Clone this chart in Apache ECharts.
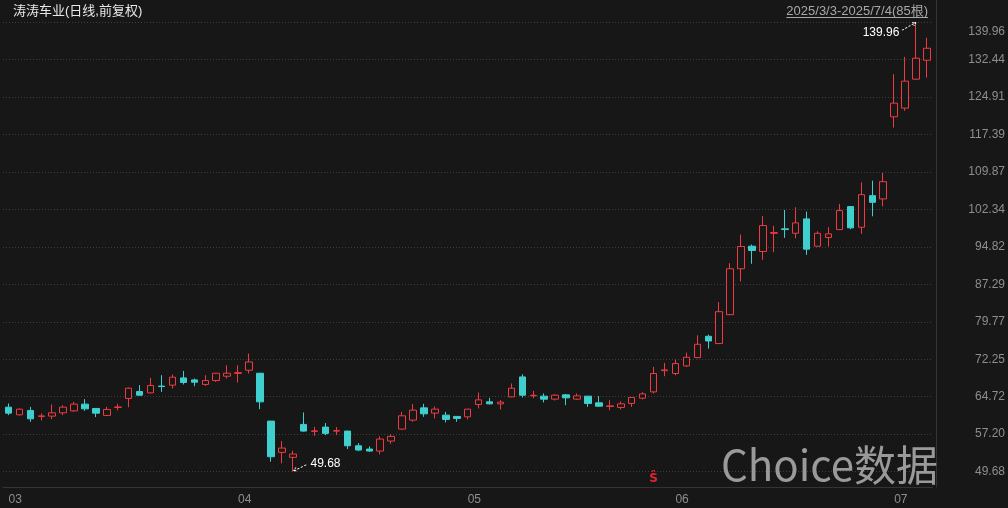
<!DOCTYPE html>
<html>
<head>
<meta charset="utf-8">
<script src="https://cdn.jsdelivr.net/npm/echarts@6/dist/echarts.min.js"></script>
<style>
html,body{margin:0;padding:0;background:#171717;}
#chart{width:1008px;height:508px;}
</style>
</head>
<body>
<div id="chart"></div>
<script>
const categories = [
 '2025-03-03','2025-03-04','2025-03-05','2025-03-06','2025-03-07','2025-03-10','2025-03-11','2025-03-12','2025-03-13','2025-03-14',
 '2025-03-17','2025-03-18','2025-03-19','2025-03-20','2025-03-21','2025-03-24','2025-03-25','2025-03-26','2025-03-27','2025-03-28',
 '2025-03-31',
 '2025-04-01','2025-04-02','2025-04-03','2025-04-07','2025-04-08','2025-04-09','2025-04-10','2025-04-11','2025-04-14','2025-04-15',
 '2025-04-16','2025-04-17','2025-04-18','2025-04-21','2025-04-22','2025-04-23','2025-04-24','2025-04-25','2025-04-28','2025-04-29',
 '2025-04-30',
 '2025-05-06','2025-05-07','2025-05-08','2025-05-09','2025-05-12','2025-05-13','2025-05-14','2025-05-15','2025-05-16','2025-05-19',
 '2025-05-20','2025-05-21','2025-05-22','2025-05-23','2025-05-26','2025-05-27','2025-05-28','2025-05-29','2025-05-30',
 '2025-06-03','2025-06-04','2025-06-05','2025-06-06','2025-06-09','2025-06-10','2025-06-11','2025-06-12','2025-06-13','2025-06-16',
 '2025-06-17','2025-06-18','2025-06-19','2025-06-20','2025-06-23','2025-06-24','2025-06-25','2025-06-26','2025-06-27','2025-06-30',
 '2025-07-01','2025-07-02','2025-07-03','2025-07-04'
];
const opens = [
 62.61,61.07,61.95,60.75,60.81,61.47,61.87,63.22,62.35,60.95,
 62.55,64.36,65.76,65.48,66.85,67.03,68.49,68.09,67.17,67.97,
 68.83,
 69.40,70.03,69.43,59.81,53.53,52.53,59.14,57.75,58.60,57.80,
 57.80,54.85,54.19,53.79,55.80,58.20,60.01,62.47,61.41,61.01,
 60.75,
 60.67,63.15,63.68,63.28,64.68,68.69,64.90,64.82,64.22,65.08,
 64.22,64.82,63.48,62.75,62.55,63.36,64.42,65.68,69.95,
 69.37,70.90,72.58,76.85,75.39,81.20,90.43,94.96,93.89,97.55,
 98.45,97.56,100.45,94.96,96.70,98.30,102.92,98.77,105.12,104.46,
 120.97,122.71,128.53,132.33
];
const closes = [
 61.41,62.21,60.27,60.85,61.47,62.61,63.22,62.27,61.41,62.15,
 62.65,66.42,65.02,66.97,66.75,68.63,67.57,67.63,67.97,69.43,
 69.43,
 69.55,71.70,63.68,52.65,54.39,53.19,57.80,57.85,57.34,57.90,
 54.85,53.99,53.79,56.20,56.74,60.87,62.01,61.27,62.21,60.15,
 60.35,
 62.21,64.08,63.28,63.62,66.42,65.02,65.00,64.22,65.02,64.48,
 64.88,63.36,62.81,62.87,63.28,64.56,65.28,69.37,70.10,
 71.38,72.64,75.25,75.91,81.80,90.43,94.90,94.10,99.11,97.70,
 98.30,99.65,94.36,97.56,97.44,102.12,98.65,105.32,103.78,107.93,
 123.71,128.13,132.74,134.74
];
const lows = [
 61.01,60.95,59.67,59.95,60.21,61.01,61.67,61.87,60.61,60.81,
 61.97,62.61,64.95,65.40,65.68,66.36,67.17,66.82,66.88,67.69,
 68.37,
 67.57,69.37,62.21,51.65,51.32,49.68,57.70,56.86,56.99,56.99,
 54.19,53.79,53.65,53.13,55.25,58.10,59.67,60.67,60.35,59.55,
 59.67,
 60.15,62.35,63.15,62.15,64.60,64.56,64.42,63.56,63.95,63.01,
 64.02,62.67,62.67,62.01,62.15,62.67,64.16,65.36,68.83,
 69.03,70.70,72.40,74.38,75.30,81.10,87.88,91.43,92.23,93.75,
 96.64,96.56,93.23,94.90,94.90,98.20,98.37,97.44,100.97,102.98,
 118.82,122.17,128.40,128.85
];
const highs = [
 63.36,62.35,62.67,61.35,63.15,63.01,63.68,64.22,62.40,62.67,
 63.28,66.56,67.03,68.49,69.03,69.17,69.89,68.37,69.03,69.50,
 71.04,
 71.04,73.38,69.50,59.81,55.80,53.85,61.55,58.66,59.41,58.60,
 57.85,55.39,54.73,56.74,57.14,61.67,63.22,63.28,62.75,61.67,
 60.80,
 62.25,65.56,64.48,64.02,67.37,69.23,65.88,65.36,65.22,65.22,
 65.36,64.85,64.82,64.02,63.76,64.60,65.62,70.70,71.50,
 72.18,73.58,77.05,77.19,83.73,91.55,97.30,95.30,101.00,99.05,
 102.26,102.78,101.92,97.96,98.76,103.46,103.00,107.79,108.13,109.68,
 129.53,133.00,139.96,136.87
];
const yTickLabels = ['49.68','57.20','64.72','72.25','79.77','87.29','94.82','102.34','109.87','117.39','124.91','132.44','139.96'];
const eventDates = ['2025-05-29'];
const eventLabels = ['Ŝ'];
const chartTitle = '涛涛车业(日线,前复权)';
const watermarkText = 'Choice数据';

const FONT = "'Liberation Sans', 'Noto Sans CJK SC', sans-serif";
const RED = '#ee3a40';
const CYAN = '#3fcfcf';
const BG = '#171717';
const AXIS_GREY = '#8e8e8e';
const Y_MIN = 46.565, Y_MAX = 144.44;

const tickVals = yTickLabels.map(parseFloat);
const candleData = categories.map((_, i) => [opens[i], closes[i], lows[i], highs[i]]);
const monthStart = categories.map((d, i) => i === 0 || d.slice(5, 7) !== categories[i - 1].slice(5, 7));
const fmtDate = d => { const p = d.split('-'); return p[0] + '/' + (+p[1]) + '/' + (+p[2]); };
const rangeText = fmtDate(categories[0]) + '-' + fmtDate(categories[categories.length - 1]) + '(' + categories.length + '根)';

const ctx = document.createElement('canvas').getContext('2d');
ctx.font = "13px " + FONT;
const rangeW = ctx.measureText(rangeText).width;
const RANGE_RIGHT = 928;

const chart = echarts.init(document.getElementById('chart'), null, {renderer: 'canvas'});
chart.setOption({
  backgroundColor: BG,
  animation: false,
  textStyle: {fontFamily: FONT},
  title: {
    text: chartTitle, left: 13, top: 5, padding: 0,
    textStyle: {color: '#e8e8e8', fontSize: 13, fontWeight: 'normal', fontFamily: FONT}
  },
  grid: {left: 3, right: 74.6, top: 0, bottom: 21},
  xAxis: {
    type: 'category', data: categories, boundaryGap: true,
    axisLine: {show: true, lineStyle: {color: '#343434'}},
    axisTick: {show: false},
    splitLine: {show: false},
    axisLabel: {
      interval: (i) => monthStart[i],
      formatter: v => v.slice(5, 7),
      align: 'left', color: AXIS_GREY, fontSize: 12, margin: 7, fontFamily: FONT
    }
  },
  yAxis: {
    type: 'value', position: 'right', min: Y_MIN, max: Y_MAX, offset: 3.6,
    axisLine: {show: true, lineStyle: {color: '#343434'}},
    axisTick: {show: false, customValues: tickVals},
    splitLine: {show: true, customValues: tickVals, lineStyle: {type: [1, 2], color: '#3e3e3e', width: 1}},
    axisLabel: {
      customValues: tickVals, align: 'right', margin: 69, color: AXIS_GREY, fontSize: 12, fontFamily: FONT,
      showMinLabel: true, showMaxLabel: true,
      formatter: (v) => {
        let best = 0;
        tickVals.forEach((t, k) => { if (Math.abs(t - v) < Math.abs(tickVals[best] - v)) best = k; });
        const s = yTickLabels[best];
        return best === tickVals.length - 1 ? '{top|' + s + '}' : s;
      },
      rich: {top: {padding: [18, 0, 0, 0], color: AXIS_GREY, fontSize: 12, fontFamily: FONT}}
    }
  },
  series: [{
    type: 'candlestick',
    data: candleData,
    barWidth: 7,
    itemStyle: {color: BG, color0: CYAN, borderColor: RED, borderColor0: CYAN, borderWidth: 1},
    emphasis: {disabled: true},
    markPoint: {
      silent: true,
      animation: false,
      data: [
        {
          type: 'max', valueDim: 'highest',
          symbol: 'path://M0,8 L14,0 M10,0 L14,0 L12,3.5',
          symbolSize: [14, 8], symbolOffset: [-7, 4], symbolKeepAspect: false,
          itemStyle: {color: 'rgba(0,0,0,0)', borderColor: '#ffffff', borderWidth: 1, borderType: [2, 1.5]},
          label: {show: true, position: 'left', distance: 2, offset: [0, 6], color: '#ffffff', fontSize: 12, fontFamily: FONT,
                  formatter: p => Number(p.value).toFixed(2)}
        },
        {
          type: 'min', valueDim: 'lowest',
          symbol: 'path://M0,7 L14,0 M0,7 L4,7 M0,7 L2,3.5',
          symbolSize: [14, 7], symbolOffset: [8, -4], symbolKeepAspect: false,
          itemStyle: {color: 'rgba(0,0,0,0)', borderColor: '#ffffff', borderWidth: 1, borderType: [2, 1.5]},
          label: {show: true, position: 'right', distance: 2, offset: [0, -4], color: '#ffffff', fontSize: 12, fontFamily: FONT,
                  formatter: p => Number(p.value).toFixed(2)}
        }
      ].concat(eventDates.map((d, k) => ({
        coord: [d, Y_MIN + 1.6],
        symbol: 'circle', symbolSize: 1,
        itemStyle: {color: 'rgba(0,0,0,0)'},
        label: {show: true, position: 'inside', formatter: eventLabels[k], color: '#e3262e', fontSize: 12,
                fontWeight: 'bold', fontFamily: "'DejaVu Sans', sans-serif"}
      })))
    }
  }],
  graphic: [
    {
      type: 'text', z: 10,
      style: {text: rangeText, x: RANGE_RIGHT, y: 11, align: 'right', verticalAlign: 'middle',
              textAlign: 'right', textVerticalAlign: 'middle',
              fill: '#a8a8a8', font: '13px ' + FONT}
    },
    {
      type: 'line', z: 10,
      shape: {x1: RANGE_RIGHT - rangeW, y1: 17.5, x2: RANGE_RIGHT, y2: 17.5},
      style: {stroke: '#a8a8a8', lineWidth: 1}
    },
    {
      type: 'text', z: 1,
      style: {text: watermarkText, x: 938, y: 465, align: 'right', verticalAlign: 'middle',
              textAlign: 'right', textVerticalAlign: 'middle',
              fill: '#9a9a9a', font: "42px 'Noto Sans CJK SC', sans-serif"}
    }
  ]
});
</script>
</body>
</html>
